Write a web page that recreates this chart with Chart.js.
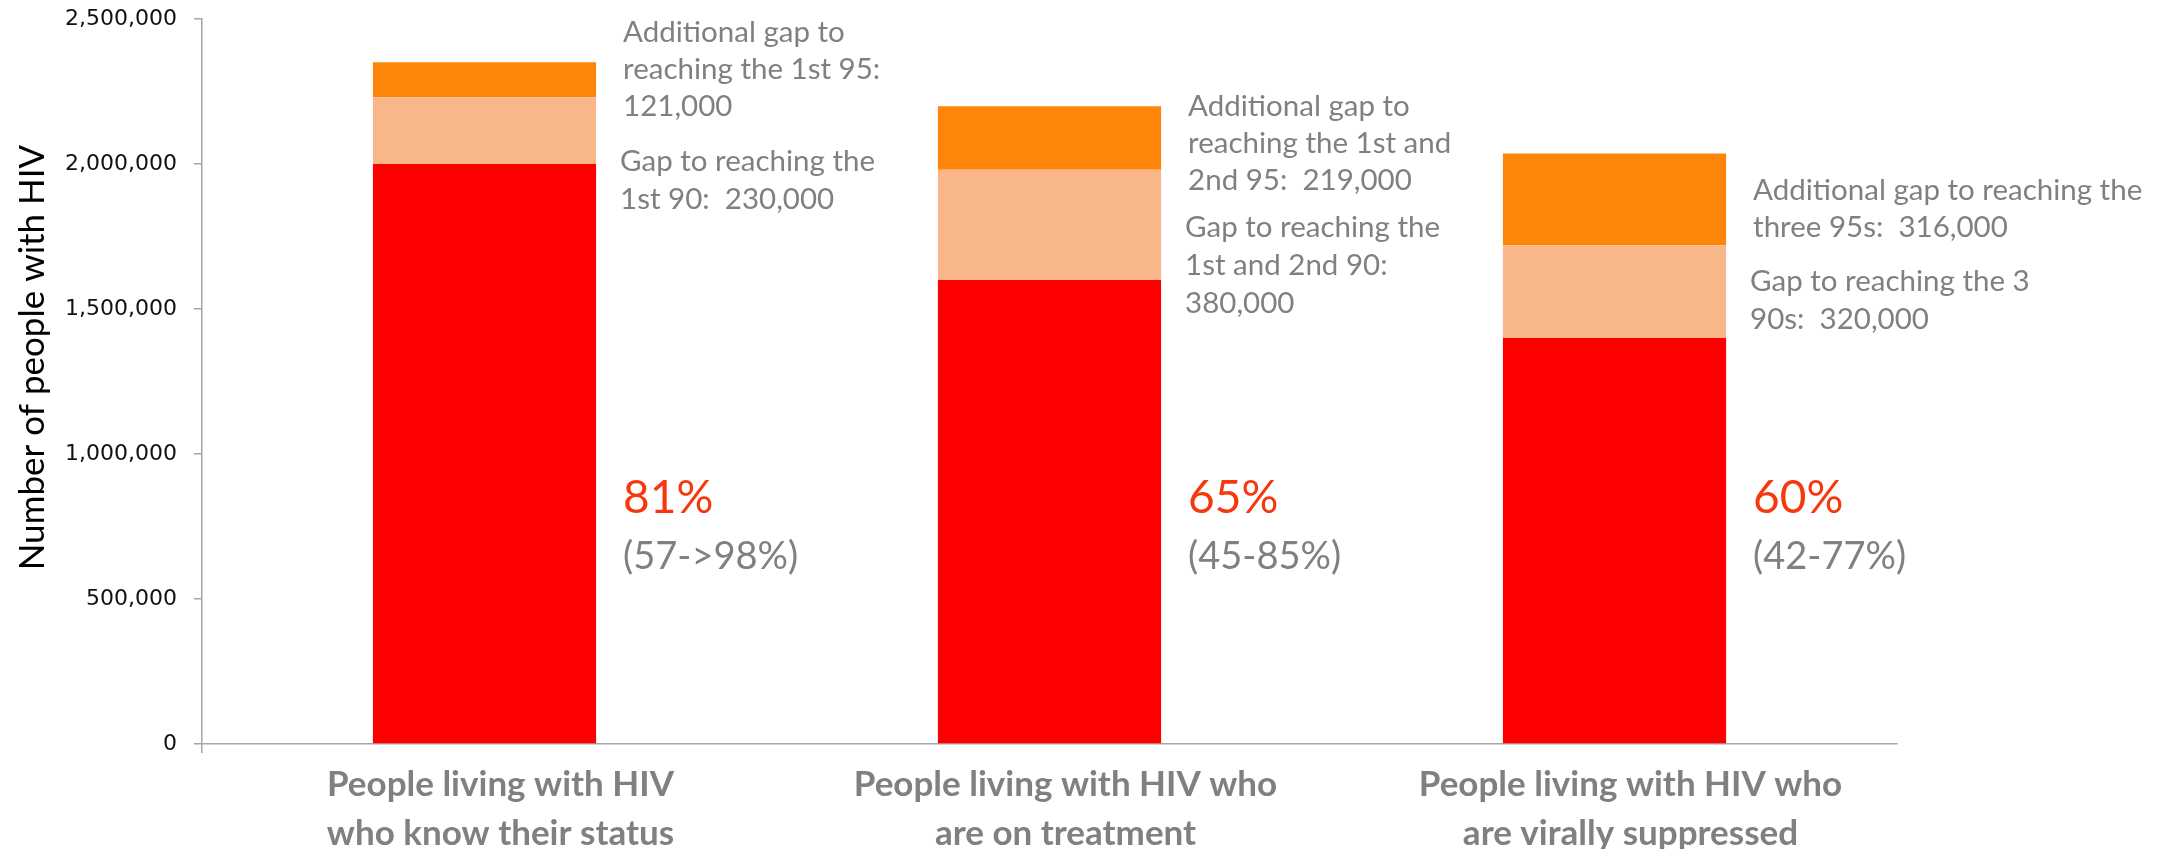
<!DOCTYPE html>
<html>
<head>
<meta charset="utf-8">
<script src="https://cdn.jsdelivr.net/npm/chart.js@4.4.1/dist/chart.umd.min.js"></script>
<style>
  html, body { margin: 0; padding: 0; background: #ffffff; }
  #wrap { width: 2157px; height: 849px; }
</style>
</head>
<body>
<div id="wrap"><canvas id="c" width="2157" height="849"></canvas></div>
<script>
// ---- data ----
const categories = [
  ["People living with HIV", "who know their status"],
  ["People living with HIV who", "are on treatment"],
  ["People living with HIV who", "are virally suppressed"]
];
const achieved = [2000000, 1600000, 1400000];
const gapTo90 = [230000, 380000, 320000];
const gapTo95 = [121000, 219000, 316000];
const pctLabels = ["81%", "65%", "60%"];
const rangeLabels = ["(57->98%)", "(45-85%)", "(42-77%)"];
const gap95Notes = [
  ["Additional gap to", "reaching the 1st 95:", "121,000"],
  ["Additional gap to", "reaching the 1st and", "2nd 95:  219,000"],
  ["Additional gap to reaching the", "three 95s:  316,000"]
];
const gap90Notes = [
  ["Gap to reaching the", "1st 90:  230,000"],
  ["Gap to reaching the", "1st and 2nd 90:", "380,000"],
  ["Gap to reaching the 3", "90s:  320,000"]
];
const yTickValues = [0, 500000, 1000000, 1500000, 2000000, 2500000];
const yTitle = "Number of people with HIV";

// ---- annotation placement (value on the y scale where the first line sits) ----
const noteAnchors = {
  gap95: [2452000, 2198000, 1908000],
  gap90: [2008000, 1782000, 1595000],
  pct: 847000,
  range: 647000
};

const GRAY = '#808080';
const AXIS = '#a6a6a6';

const annotate = {
  id: 'annotate',
  afterLayout(chart) {
    const s = chart.scales.y;
    if (!s._titleShifted) {
      const orig = s.drawTitle;
      s.drawTitle = function () {
        const ctx = this.ctx;
        ctx.save();
        ctx.translate(0, -24);
        orig.apply(this, arguments);
        ctx.restore();
      };
      s._titleShifted = true;
    }
  },
  afterDatasetsDraw(chart) {
    const ctx = chart.ctx;
    const ys = chart.scales.y;
    const meta = chart.getDatasetMeta(2);
    ctx.save();
    ctx.textBaseline = 'middle';
    ctx.textAlign = 'left';
    for (let i = 0; i < categories.length; i++) {
      const el = meta.data[i];
      const x0 = el.x + el.width / 2 + 27;
      ctx.fillStyle = GRAY;
      ctx.font = '29.5px Lato';
      let y = ys.getPixelForValue(noteAnchors.gap95[i]);
      gap95Notes[i].forEach((t, k) => ctx.fillText(t, x0, y + k * 37));
      y = ys.getPixelForValue(noteAnchors.gap90[i]);
      gap90Notes[i].forEach((t, k) => ctx.fillText(t, x0 - 3, y + k * 38));
      ctx.fillStyle = '#f5380e';
      ctx.font = '46px Lato';
      ctx.fillText(pctLabels[i], x0, ys.getPixelForValue(noteAnchors.pct));
      ctx.fillStyle = GRAY;
      ctx.font = '38px Lato';
      ctx.fillText(rangeLabels[i], x0, ys.getPixelForValue(noteAnchors.range));
    }
    ctx.restore();
  }
};

const barCommon = { barPercentage: 0.395, categoryPercentage: 1.0, borderWidth: 0 };

new Chart(document.getElementById('c'), {
  type: 'bar',
  data: {
    labels: categories,
    datasets: [
      Object.assign({ label: 'Achieved', data: achieved, backgroundColor: '#ff0000' }, barCommon),
      Object.assign({ label: 'Gap to 90', data: gapTo90, backgroundColor: '#f9b789' }, barCommon),
      Object.assign({ label: 'Additional gap to 95', data: gapTo95, backgroundColor: '#fc850a' }, barCommon)
    ]
  },
  options: {
    responsive: false,
    animation: false,
    layout: { padding: { top: 19, right: 260, left: 0, bottom: 0 } },
    plugins: { legend: { display: false }, tooltip: { enabled: false } },
    scales: {
      x: {
        stacked: true,
        grid: {
          drawOnChartArea: false,
          drawTicks: true,
          tickLength: 9,
          lineWidth: 1.5,
          color: (c) => (c.index === 0 ? AXIS : 'rgba(0,0,0,0)')
        },
        border: { color: AXIS, width: 1.5 },
        ticks: {
          color: GRAY,
          padding: 8,
          labelOffset: 16,
          font: { family: 'Lato, sans-serif', size: 35, weight: 'bold', lineHeight: 1.38 }
        },
        afterFit: (s) => { s.height = 105; }
      },
      y: {
        stacked: true,
        min: 0,
        max: 2500000,
        afterBuildTicks: (s) => { s.ticks = yTickValues.map(v => ({ value: v })); },
        grid: { drawOnChartArea: false, drawTicks: true, tickLength: 8, color: AXIS, lineWidth: 1.5 },
        border: { color: AXIS, width: 1.5 },
        ticks: {
          color: '#111111',
          padding: 17,
          font: { family: '"DejaVu Sans", sans-serif', size: 22 },
          callback: (v) => Number(v).toLocaleString('en-US')
        },
        title: {
          display: true,
          text: yTitle,
          color: '#000000',
          padding: { top: 12, bottom: 0 },
          font: { family: 'Lato, sans-serif', size: 35, lineHeight: 1.2 }
        },
        afterFit: (s) => { s.width = 202; s.paddingTop = 12; s.paddingBottom = 12; }
      }
    }
  },
  plugins: [annotate]
});
</script>
</body>
</html>
